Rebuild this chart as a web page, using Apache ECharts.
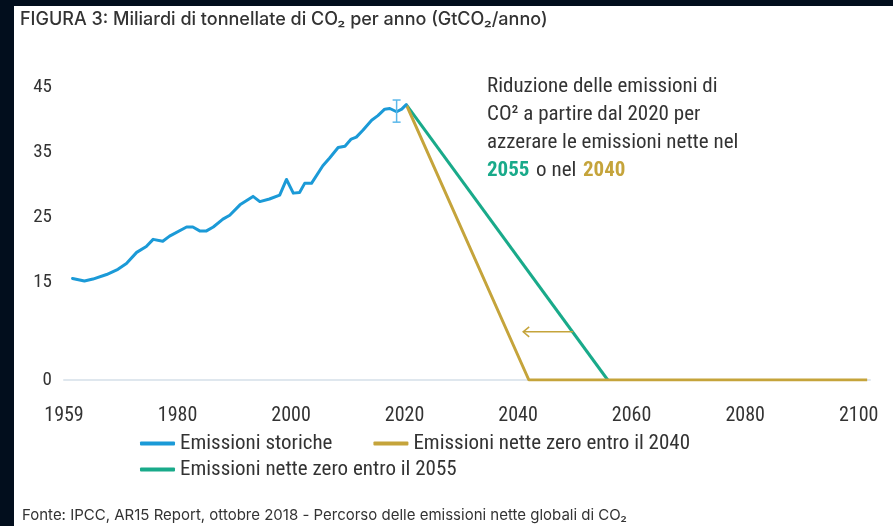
<!DOCTYPE html>
<html>
<head>
<meta charset="utf-8">
<script src="https://cdn.jsdelivr.net/npm/echarts@6/dist/echarts.min.js"></script>
<style>
  body { margin: 0; background: #020e1d; width: 893px; height: 526px; overflow: hidden; }
  #chart { position: absolute; left: 14px; top: 6px; width: 879px; height: 520px; background: #fff; }
</style>
</head>
<body>
<div id="chart"></div>
<script>
// emissioni storiche (GtCO2/anno)
var histYears = [1961.5, 1963.6, 1965.1, 1967.5, 1969.5, 1971, 1972.8, 1974.5, 1975.7, 1977.4, 1978.6,
  1981.6, 1982.7, 1983.9, 1985.1, 1986.3, 1988, 1989.2, 1991, 1993.3, 1994.5, 1996.2, 1998, 1999.2,
  2000.4, 2001.5, 2002.4, 2003.6, 2005.6, 2006.8, 2008.3, 2009.5, 2010.6, 2011.5, 2012.7, 2014.2,
  2015.3, 2016.5, 2017.4, 2018.6, 2019.5, 2020.3];
var histValues = [15.6, 15.2, 15.5, 16.2, 17.0, 17.9, 19.6, 20.5, 21.6, 21.3, 22.1,
  23.5, 23.5, 22.9, 22.9, 23.5, 24.7, 25.3, 26.9, 28.2, 27.4, 27.8, 28.4, 30.8,
  28.7, 28.8, 30.2, 30.2, 32.9, 34.1, 35.7, 35.9, 37.0, 37.3, 38.4, 39.9,
  40.6, 41.6, 41.7, 41.2, 41.6, 42.3];

// percorsi di riduzione
var path2040Years = [2020.3, 2041.9, 2101.5];
var path2040Values = [42.3, 0, 0];
var path2055Years = [2020.3, 2055.8];
var path2055Values = [42.3, 0];

// barra di incertezza [anno, min, max]
var errorBar = [[2018.6, 39.6, 43.0]];
// freccia [anno inizio, anno fine, valore]
var arrow = [[2049.7, 2040.9, 7.4]];

var xTickValues = [1960, 1980, 2000, 2020, 2040, 2060, 2080, 2100];
var xTickLabels = ['1959', '1980', '2000', '2020', '2040', '2060', '2080', '2100'];
var yTickValues = [0, 15, 25, 35, 45];

var names = ['Emissioni storiche', 'Emissioni nette zero entro il 2040', 'Emissioni nette zero entro il 2055'];

var blue = '#1b9ad7';
var gold = '#c5a43b';
var green = '#19aa8a';
var textColor = '#333333';
var narrow = "'Roboto Condensed', 'Roboto', sans-serif";

function pairs(xs, ys) {
  return xs.map(function (x, i) { return [x, ys[i]]; });
}

var myChart = echarts.init(document.getElementById('chart'));

var legendText = { fontFamily: narrow, fontSize: 21, color: textColor };

var option = {
  animation: false,
  grid: { left: 50, right: 23, top: 81, bottom: 146 },
  title: [
    {
      text: 'FIGURA 3: Miliardi di tonnellate di CO₂ per anno (GtCO₂/anno)',
      left: 6, top: 5, padding: 0,
      textStyle: { fontFamily: 'Inter', fontWeight: 500, fontSize: 18, color: textColor }
    },
    {
      text: 'Fonte: IPCC, AR15 Report, ottobre 2018 - Percorso delle emissioni nette globali di CO₂',
      left: 8, top: 502, padding: 0,
      textStyle: { fontFamily: 'Inter', fontWeight: 'normal', fontSize: 15, color: textColor }
    }
  ],
  legend: [
    {
      data: [names[0], names[1]],
      left: 126, top: 427, padding: 0,
      icon: 'roundRect', itemWidth: 35, itemHeight: 4, itemGap: 41,
      textStyle: legendText
    },
    {
      data: [names[2]],
      left: 126, top: 453, padding: 0,
      icon: 'roundRect', itemWidth: 35, itemHeight: 4,
      textStyle: legendText
    }
  ],
  xAxis: {
    type: 'value',
    min: 1960, max: 2102, interval: 20,
    axisLine: { lineStyle: { color: '#dfe7ee', width: 2 } },
    axisTick: { show: false },
    splitLine: { show: false },
    axisLabel: {
      margin: 26,
      fontFamily: narrow, fontSize: 20, color: textColor,
      showMaxLabel: false,
      formatter: function (v) {
        var i = xTickValues.indexOf(v);
        return i >= 0 ? xTickLabels[i] : '';
      }
    }
  },
  yAxis: {
    type: 'value',
    min: 0, max: 45, interval: 5,
    axisLine: { show: false },
    axisTick: { show: false },
    splitLine: { show: false },
    axisLabel: {
      margin: 12,
      fontFamily: narrow, fontSize: 19, color: textColor,
      formatter: function (v) {
        return yTickValues.indexOf(v) >= 0 ? String(v) : '';
      }
    }
  },
  graphic: [
    {
      type: 'text',
      left: 473, top: 70,
      style: {
        text: '{n|Riduzione delle emissioni di}\n{n|CO² a partire dal 2020 per}\n{n|azzerare le emissioni nette nel}\n{g|2055}  {n|o nel}  {y|2040}',
        rich: {
          n: { fontFamily: narrow, fontSize: 21, lineHeight: 28, fill: textColor },
          g: { fontFamily: narrow, fontSize: 21, lineHeight: 28, fontWeight: 'bold', fill: green },
          y: { fontFamily: narrow, fontSize: 21, lineHeight: 28, fontWeight: 'bold', fill: gold }
        }
      }
    }
  ],
  series: [
    {
      name: names[2],
      type: 'line',
      symbol: 'none',
      color: green,
      lineStyle: { width: 3, color: green },
      data: pairs(path2055Years, path2055Values),
      z: 2
    },
    {
      name: names[1],
      type: 'line',
      symbol: 'none',
      color: gold,
      lineStyle: { width: 3, color: gold },
      data: pairs(path2040Years, path2040Values),
      z: 3
    },
    {
      name: names[0],
      type: 'line',
      symbol: 'none',
      color: blue,
      lineStyle: { width: 3, color: blue, join: 'round', cap: 'round' },
      data: pairs(histYears, histValues),
      z: 4
    },
    {
      type: 'custom',
      data: errorBar,
      z: 5,
      renderItem: function (params, api) {
        var lo = api.coord([api.value(0), api.value(1)]);
        var hi = api.coord([api.value(0), api.value(2)]);
        var w = 4;
        var st = { stroke: '#5bb8ea', lineWidth: 1.5 };
        return {
          type: 'group',
          children: [
            { type: 'line', shape: { x1: lo[0], y1: lo[1], x2: hi[0], y2: hi[1] }, style: st },
            { type: 'line', shape: { x1: lo[0] - w, y1: lo[1], x2: lo[0] + w, y2: lo[1] }, style: st },
            { type: 'line', shape: { x1: hi[0] - w, y1: hi[1], x2: hi[0] + w, y2: hi[1] }, style: st }
          ]
        };
      }
    },
    {
      type: 'custom',
      data: arrow,
      z: 5,
      renderItem: function (params, api) {
        var a = api.coord([api.value(0), api.value(2)]);
        var b = api.coord([api.value(1), api.value(2)]);
        var st = { stroke: gold, lineWidth: 1.5, fill: null };
        return {
          type: 'group',
          children: [
            { type: 'line', shape: { x1: a[0], y1: a[1], x2: b[0], y2: b[1] }, style: st },
            { type: 'polyline', shape: { points: [[b[0] + 6, b[1] - 5], [b[0], b[1]], [b[0] + 6, b[1] + 5]] }, style: st }
          ]
        };
      }
    }
  ]
};

myChart.setOption(option);
</script>
</body>
</html>
